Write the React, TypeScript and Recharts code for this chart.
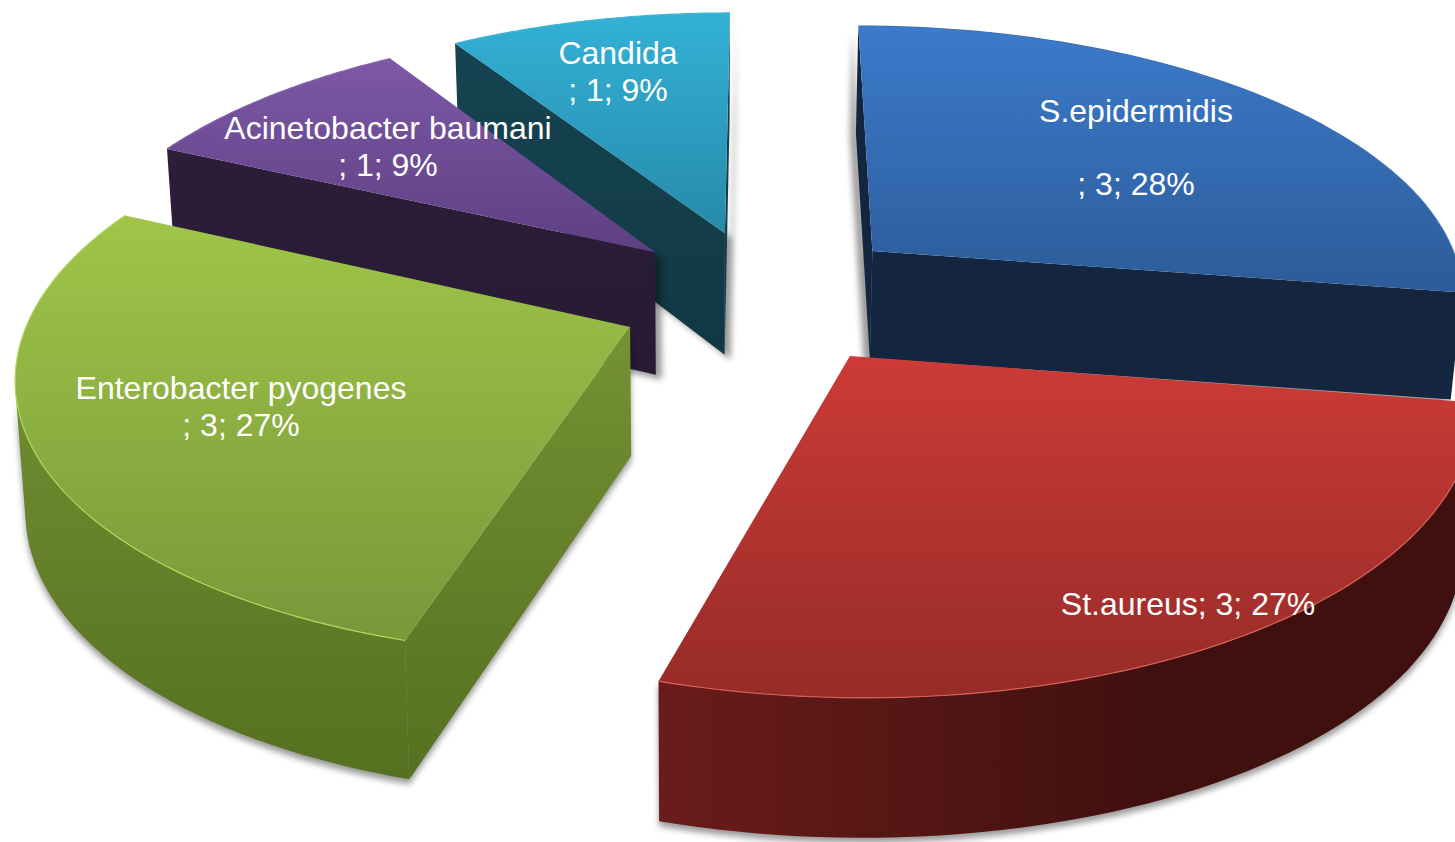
import React from 'react';
import { PieChart, Pie } from 'recharts';

// Slices run counter-clockwise from the S.epidermidis rim, which also gives
// back-to-front paint order for the extruded wedges.
const CATEGORIES = ['S.epidermidis', 'Candida', 'Acinetobacter baumani', 'Enterobacter pyogenes', 'St.aureus'];
const COUNTS = [3, 1, 1, 3, 3];
const SHARES = [27.5, 9, 9, 27.4, 27.1];

const LABEL_LINES = [
  ['S.epidermidis', '', '; 3; 28%'],
  ['Candida', '; 1; 9%'],
  ['Acinetobacter baumani', '; 1; 9%'],
  ['Enterobacter pyogenes', '; 3; 27%'],
  ['St.aureus; 3; 27%'],
];
const LABEL_ANCHORS = [
  [1136, 122],
  [618, 64],
  [388, 139],
  [241, 399],
  [1188, 615],
];

const TOP_FILLS = [
  ['#3C7ACB', '#2C5C99'],
  ['#33B1D6', '#268AAA'],
  ['#7D58A6', '#5E4082'],
  ['#A0C548', '#78983A'],
  ['#CC3B37', '#962B28'],
];
const WALL_FILLS = [
  ['#14263F', '#14263F'],
  ['#164553', '#113843'],
  ['#2E1F3B', '#271A33'],
  ['#7D9A38', '#557020'],
  ['#6A1C1A', '#3F100E'],
];
const EDGE_COLORS = ['#3D70B5', '#3FB4D6', '#8362AE', '#B4D65A', '#D9605A'];
// height of each wedge, and how much it shrinks towards the back
const WEDGE_HEIGHT = [107, 125, 125, 128, 140];
const HEIGHT_FALLOFF = [0, 0.12, 0.12, 0.08, 0];
const SHADOW_DX = [-6, 6, 6, 0, 0];
// small per-wedge correction on top of the common explosion
const WEDGE_SHIFT = [
  [-3, -2],
  [0, 0],
  [-1, 0],
  [3, 3],
  [3, 1],
];

const WIDTH = 1455;
const HEIGHT = 842;
const CENTER_X = 765;
const CENTER_Y = 296;
const RADIUS = 595;
const TILT = 0.455;
const PERSPECTIVE = 0.15;
const EXPLODE = 0.25;
const VANISH_X = 700;
const CONVERGE = 0.015;
const START_ANGLE = -9;

const pieData = CATEGORIES.map((category, i) => ({ category, share: SHARES[i], count: COUNTS[i] }));

type Pt = [number, number];

const toLine = (pts: Pt[]) => 'M' + pts.map((p) => `${p[0].toFixed(1)},${p[1].toFixed(1)}`).join('L');
const toPath = (pts: Pt[]) => toLine(pts) + 'Z';

const WedgeShape = (props: any) => {
  const { cx, cy, outerRadius, startAngle, endAngle, midAngle } = props;
  const category = props.payload?.category ?? props.category;
  const idx = CATEGORIES.indexOf(category);
  const rad = Math.PI / 180;

  const offU = EXPLODE * Math.cos(midAngle * rad);
  const offV = EXPLODE * Math.sin(midAngle * rad);
  const [shiftX, shiftY] = WEDGE_SHIFT[idx];

  // pie plane (unit radius, v pointing away from the viewer) to screen
  const project = (u: number, v: number): Pt => {
    const w = 1 / (1 + PERSPECTIVE * v);
    return [cx + shiftX + outerRadius * u * w, cy + shiftY - outerRadius * TILT * v * w];
  };
  const topPoint = (rho: number, a: number): Pt =>
    project(offU + rho * Math.cos(a * rad), offV + rho * Math.sin(a * rad));
  const dropPoint = (rho: number, a: number): Pt => {
    const v = offV + rho * Math.sin(a * rad);
    const [x, y] = topPoint(rho, a);
    const h = WEDGE_HEIGHT[idx] * (1 - HEIGHT_FALLOFF[idx] * v);
    return [x + (VANISH_X - x) * CONVERGE, y + h];
  };

  const steps = 60;
  const angles: number[] = [];
  for (let i = 0; i <= steps; i++) angles.push(startAngle + ((endAngle - startAngle) * i) / steps);

  const rimTop = angles.map((a) => topPoint(1, a));
  const rimBottom = angles.map((a) => dropPoint(1, a));
  const apexTop = topPoint(0, startAngle);
  const apexBottom = dropPoint(0, startAngle);

  // signed area decides which faces look at the camera
  const area = (pts: Pt[]) => {
    let s = 0;
    pts.forEach((p, i) => {
      const q = pts[(i + 1) % pts.length];
      s += p[0] * q[1] - q[0] * p[1];
    });
    return s / 2;
  };

  const faces: Pt[][] = [];
  const startWall: Pt[] = [apexTop, rimTop[0], rimBottom[0], apexBottom];
  const endWall: Pt[] = [rimTop[steps], apexTop, apexBottom, rimBottom[steps]];
  if (area(startWall) > 0) faces.push(startWall);
  if (area(endWall) > 0) faces.push(endWall);

  // the visible part of the rim is one unbroken run of strips
  const visible: number[] = [];
  for (let i = 0; i < steps; i++) {
    if (area([rimTop[i], rimTop[i + 1], rimBottom[i + 1], rimBottom[i]]) > 0) visible.push(i);
  }
  if (visible.length) {
    const first = visible[0];
    const last = visible[visible.length - 1] + 1;
    faces.push([...rimTop.slice(first, last + 1), ...rimBottom.slice(first, last + 1).reverse()]);
  }

  const topFace: Pt[] = [apexTop, ...rimTop];
  const allY = [...topFace, ...rimBottom, apexBottom].map((p) => p[1]);
  const allX = [...topFace, ...rimBottom, apexBottom].map((p) => p[0]);
  const wallId = `wall-${idx}`;
  const topId = `top-${idx}`;
  const shadowId = `soft-${idx}`;
  const horizontal = idx === 4;

  return (
    <g>
      <defs>
        <linearGradient id={topId} x1="0" y1="0" x2="0" y2="1">
          <stop offset="0%" stopColor={TOP_FILLS[idx][0]} />
          <stop offset="100%" stopColor={TOP_FILLS[idx][1]} />
        </linearGradient>
        <linearGradient
          id={wallId}
          gradientUnits="userSpaceOnUse"
          x1={horizontal ? Math.min(...allX) : 0}
          y1={horizontal ? 0 : Math.min(...allY)}
          x2={horizontal ? 1150 : 0}
          y2={horizontal ? 0 : Math.max(...allY)}
        >
          <stop offset="0%" stopColor={WALL_FILLS[idx][0]} />
          <stop offset="100%" stopColor={WALL_FILLS[idx][1]} />
        </linearGradient>
        <filter id={shadowId} x="-10%" y="-10%" width="120%" height="120%">
          <feGaussianBlur stdDeviation="3" />
        </filter>
      </defs>
      <path
        d={faces.map(toPath).join('')}
        fill="#000"
        opacity={0.4}
        filter={`url(#${shadowId})`}
        transform={`translate(${SHADOW_DX[idx]},5)`}
      />
      {faces.map((f, i) => (
        <path key={i} d={toPath(f)} fill={`url(#${wallId})`} />
      ))}
      <path d={toPath(topFace)} fill={`url(#${topId})`} />
      <path d={toLine(rimTop)} fill="none" stroke={EDGE_COLORS[idx]} strokeWidth={1.2} />
    </g>
  );
};

const renderLabel = (props: any) => {
  const { index } = props;
  const [x, y] = LABEL_ANCHORS[index];
  return (
    <text
      key={index}
      x={x}
      y={y}
      textAnchor="middle"
      fill="#FFFFFF"
      fontFamily="'Liberation Sans', Arial, sans-serif"
      fontSize={32}
    >
      {LABEL_LINES[index].map((line, i) => (
        <tspan key={i} x={x} y={y + i * 36.5}>
          {line}
        </tspan>
      ))}
    </text>
  );
};

export default function App() {
  return (
    <div style={{ position: 'absolute', left: 0, top: 0, width: WIDTH, height: HEIGHT, overflow: 'hidden', background: '#fff' }}>
      <PieChart width={WIDTH} height={HEIGHT} margin={{ top: 0, right: 0, bottom: 0, left: 0 }}>
        <Pie
          data={pieData}
          dataKey="share"
          nameKey="category"
          cx={CENTER_X}
          cy={CENTER_Y}
          innerRadius={0}
          outerRadius={RADIUS}
          startAngle={START_ANGLE}
          endAngle={START_ANGLE + 360}
          stroke="none"
          shape={WedgeShape}
          label={renderLabel}
          labelLine={false}
          isAnimationActive={false}
        />
      </PieChart>
    </div>
  );
}
